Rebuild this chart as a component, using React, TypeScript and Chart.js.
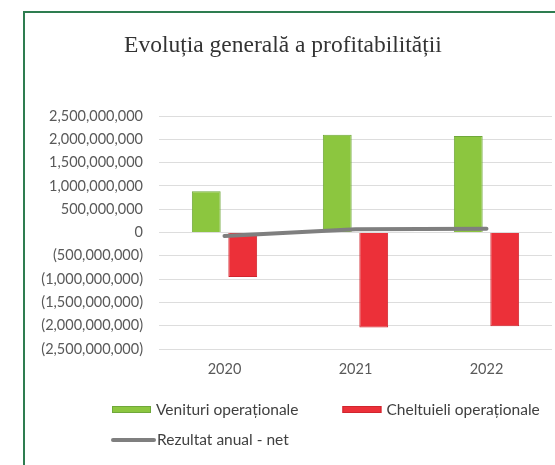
import React, { useEffect, useRef } from "react";
import { Chart, registerables } from "chart.js";

Chart.register(...registerables);

const years = ["2020", "2021", "2022"];
const venituri = [886000000, 2095000000, 2070000000];
const cheltuieli = [-953000000, -2040000000, -2010000000];
const rezultat = [-75000000, 70000000, 80000000];
const seriesNames = ["Venituri operaționale", "Cheltuieli operaționale", "Rezultat anual - net"];
const chartTitle = "Evoluția generală a profitabilității";

const SANS = "Lato";

function fmt(v: number): string {
  if (v === 0) return "0";
  const s = Math.abs(v).toLocaleString("en-US");
  return v < 0 ? `(${s})` : s;
}

const legendPlugin = {
  id: "customLegend",
  afterDraw(chart: any) {
    const ctx = chart.ctx as CanvasRenderingContext2D;
    const dsets = chart.data.datasets;
    ctx.save();
    ctx.font = `15.5px ${SANS}`;
    ctx.textBaseline = "middle";
    ctx.textAlign = "left";
    let x = 112;
    const y1 = 410;
    dsets.filter((d: any) => d.type === "bar").forEach((d: any) => {
      ctx.fillStyle = d.backgroundColor;
      ctx.fillRect(x, y1 - 4, 39, 7);
      ctx.strokeStyle = d.borderColor;
      ctx.lineWidth = 1;
      ctx.strokeRect(x + 0.5, y1 - 3.5, 38, 6);
      ctx.fillStyle = "#404040";
      ctx.fillText(d.label, x + 44, y1);
      x += 44 + ctx.measureText(d.label).width + 44;
    });
    const y2 = 440;
    dsets.filter((d: any) => d.type === "line").forEach((d: any) => {
      ctx.strokeStyle = d.borderColor;
      ctx.lineWidth = 4;
      ctx.lineCap = "round";
      ctx.beginPath();
      ctx.moveTo(113, y2);
      ctx.lineTo(154, y2);
      ctx.stroke();
      ctx.fillStyle = "#404040";
      ctx.fillText(d.label, 157, y2);
    });
    ctx.restore();
  },
};

export default function App() {
  const ref = useRef<HTMLCanvasElement | null>(null);
  useEffect(() => {
    if (!ref.current) return;
    const chart = new Chart(ref.current, {
      type: "bar",
      data: {
        labels: years,
        datasets: [
          {
            type: "bar",
            label: seriesNames[0],
            data: venituri,
            backgroundColor: "#8CC63F",
            borderColor: "#6FA83A",
            borderWidth: 1,
            order: 1,
            categoryPercentage: 0.557,
            barPercentage: 0.79,
          },
          {
            type: "bar",
            label: seriesNames[1],
            data: cheltuieli,
            backgroundColor: "#EC3039",
            borderColor: "#D0252E",
            borderWidth: 1,
            order: 1,
            categoryPercentage: 0.557,
            barPercentage: 0.79,
          },
          {
            type: "line",
            label: seriesNames[2],
            data: rezultat,
            borderColor: "#7F7F7F",
            borderWidth: 4,
            borderCapStyle: "round",
            pointRadius: 0,
            tension: 0,
            order: 0,
          },
        ] as any,
      },
      options: {
        responsive: false,
        animation: false,
        devicePixelRatio: 1,
        layout: { padding: { left: 14, right: 3, top: 0, bottom: 86 } },
        plugins: {
          legend: { display: false },
          tooltip: { enabled: false },
          title: {
            display: true,
            text: chartTitle,
            color: "#333333",
            font: { family: "Liberation Serif", size: 23.5, weight: "normal" },
            padding: { top: 31.4, bottom: 56.4 },
          },
        },
        scales: {
          x: {
            grid: { display: false, drawTicks: false },
            border: { display: false },
            ticks: { color: "#595959", font: { family: SANS, size: 14.5 }, padding: 12 },
            afterFit: (s: any) => { s.height = 30; },
          },
          y: {
            min: -2500000000,
            max: 2500000000,
            grid: { color: "#DDDDDD", drawTicks: false },
            border: { display: false },
            ticks: {
              stepSize: 500000000,
              color: "#595959",
              font: { family: SANS, size: 14.5 },
              padding: 16,
              callback: (v: any) => fmt(Number(v)),
            },
            afterFit: (s: any) => { s.width = 145; },
          },
        },
      },
      plugins: [legendPlugin],
    });
    return () => chart.destroy();
  }, []);

  return (
    <div style={{ position: "absolute", left: 0, top: 0, width: 555, height: 465, overflow: "hidden", background: "#fff" }}>
      <div style={{ position: "absolute", left: 23, top: 11, width: 600, height: 520, border: "2px solid #2E7D50", boxSizing: "border-box" }} />
      <canvas ref={ref} width={555} height={465} style={{ position: "absolute", left: 0, top: 0 }} />
    </div>
  );
}
